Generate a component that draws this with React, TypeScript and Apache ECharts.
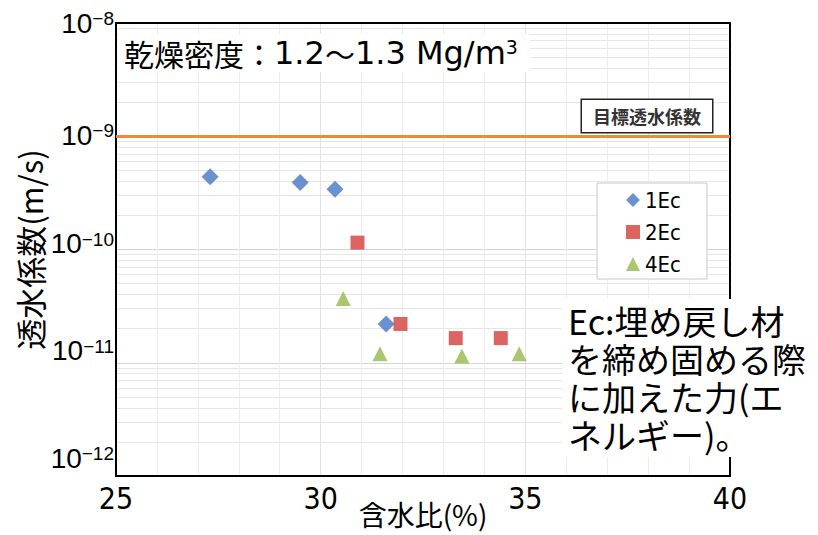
import React, { useEffect, useRef } from "react";
import * as echarts from "echarts";

// x-axis ticks: 含水比 (%)
const xTicks = [25, 30, 35, 40];
// y-axis decades: exponent of 透水係数 (m/s)
const yExponents = [-12, -11, -10, -9, -8];

const seriesNames = ["1Ec", "2Ec", "4Ec"];
// [含水比 (%), 透水係数 (m/s)]
const ec1 = [
  [27.3, 4.4e-10],
  [29.5, 3.9e-10],
  [30.35, 3.4e-10],
  [31.6, 2.2e-11],
];
const ec2 = [
  [30.9, 1.15e-10],
  [31.95, 2.2e-11],
  [33.3, 1.65e-11],
  [34.4, 1.65e-11],
];
const ec4 = [
  [30.55, 3.7e-11],
  [31.45, 1.2e-11],
  [33.45, 1.15e-11],
  [34.85, 1.2e-11],
];

const targetPermeability = 1e-9;
const targetLabel = "目標透水係数";
const xAxisName = "含水比(%)";
const yAxisName = "透水係数(m/s)";
const densityLabel = "乾燥密度：";
const densityFrom = "1.2";
const densityTilde = "〜";
const densityTo = "1.3 Mg/m";
const densityUnitPower = "3";
const energyNote = ["Ec:埋め戻し材", "を締め固める際", "に加えた力(エ", "ネルギー)。"];

// The log axis works in units of 10^-12 m/s to keep values away from float rounding.
const Y_UNIT_EXP = yExponents[0];
const toAxis = (v: number) => v / Math.pow(10, Y_UNIT_EXP);

const NARROW = "'Liberation Sans Narrow', 'DejaVu Sans Condensed', sans-serif";
const SANS = "'Liberation Sans', Arial, sans-serif";
const WIDE = "'DejaVu Sans', sans-serif";
const CJK = "'Noto Sans CJK JP', sans-serif";

const COLORS = ["#4677c4", "#d43f3a", "#93b94b"];
const SYMBOLS = ["diamond", "rect", "triangle"];
const SYMBOL_SIZES = [17, 14, 15];

// upward nudge of each decade label (px)
const labelLift: Record<number, number> = { 8: 0, 9: 1, 10: 6, 11: 12, 12: 18 };

export default function App() {
  const ref = useRef<HTMLDivElement>(null);

  useEffect(() => {
    if (!ref.current) return;
    const chart = echarts.init(ref.current, undefined, { renderer: "svg" });

    const rich: Record<string, any> = {};
    yExponents.forEach((e) => {
      const n = -e;
      rich["b" + n] = {
        fontSize: 28,
        fontFamily: SANS,
        color: "#000",
        padding: [0, 0, 2 * labelLift[n], 0],
      };
      rich["s" + n] = {
        fontSize: 19,
        fontFamily: SANS,
        color: "#000",
        verticalAlign: "top",
      };
    });

    const [xMin, xMax] = [xTicks[0], xTicks[xTicks.length - 1]];
    const frameAxis = {
      axisLine: { show: true, onZero: false, lineStyle: { color: "#000", width: 2 } },
      axisTick: { show: false },
      axisLabel: { show: false },
      splitLine: { show: false },
      silent: true,
    };

    chart.setOption({
      animation: false,
      backgroundColor: "#fff",
      grid: {
        left: 116,
        top: 23,
        width: 614,
        height: 453,
        containLabel: false,
        outerBoundsMode: "none",
        show: true,
        borderColor: "#000",
        borderWidth: 2,
        backgroundColor: "transparent",
      },
      xAxis: [
        {
          type: "value",
          min: xMin,
          max: xMax,
          interval: xTicks[1] - xTicks[0],
          axisLine: { show: true, onZero: false, lineStyle: { color: "#000", width: 2 } },
          axisTick: { show: false },
          axisLabel: { fontSize: 30, fontFamily: NARROW, color: "#000", margin: 7 },
          splitLine: { show: true, lineStyle: { color: "#e2e2e2", width: 1 } },
          minorTick: { show: false, splitNumber: 5 },
          minorSplitLine: { show: true, lineStyle: { color: "#ededed", width: 1 } },
          name: xAxisName,
          nameLocation: "middle",
          nameGap: 24,
          nameMoveOverlap: false,
          nameTextStyle: { fontSize: 28, fontFamily: CJK, color: "#000" },
        },
        { type: "value", position: "top", min: xMin, max: xMax, ...frameAxis },
      ],
      yAxis: [
        {
          type: "log",
          logBase: 10,
          min: 1,
          max: toAxis(Math.pow(10, yExponents[yExponents.length - 1])),
          splitNumber: yExponents.length - 1,
          axisLine: { show: true, onZero: false, lineStyle: { color: "#000", width: 2 } },
          axisTick: { show: false },
          axisLabel: {
            margin: 2,
            formatter: (v: number) => {
              const n = -(Math.round(Math.log10(v)) + Y_UNIT_EXP);
              return `{b${n}|10}{s${n}|−${n}}`;
            },
            rich,
          },
          splitLine: { show: true, lineStyle: { color: "#d4d4d4", width: 1 } },
          minorTick: { show: false, splitNumber: 9 },
          minorSplitLine: { show: true, lineStyle: { color: "#e6e6e6", width: 1 } },
          name: yAxisName,
          nameLocation: "middle",
          nameGap: 71,
          nameMoveOverlap: false,
          nameTextStyle: { fontSize: 31, fontFamily: CJK, color: "#000" },
        },
        { type: "value", position: "right", min: 0, max: 1, ...frameAxis },
      ],
      legend: {
        data: seriesNames.map((name, i) => ({ name, icon: SYMBOLS[i] })),
        orient: "vertical",
        left: 597,
        top: 183,
        padding: [6, 26, 4, 29],
        itemGap: 10,
        itemWidth: 14,
        itemHeight: 14,
        borderColor: "#c8c8c8",
        borderWidth: 1,
        backgroundColor: "#fff",
        textStyle: { fontSize: 22, fontFamily: NARROW, color: "#000" },
      },
      series: [ec1, ec2, ec4].map((d, i) => ({
        name: seriesNames[i],
        type: "scatter",
        xAxisIndex: 0,
        yAxisIndex: 0,
        data: d.map(([x, y]) => [x, toAxis(y)]),
        symbol: SYMBOLS[i],
        symbolSize: SYMBOL_SIZES[i],
        itemStyle: { color: COLORS[i] },
        z: 5,
        ...(i === 0
          ? {
              markLine: {
                silent: true,
                symbol: ["none", "none"],
                label: { show: false },
                emphasis: { disabled: true },
                lineStyle: { color: "#ee8a3c", width: 3, type: "solid" },
                data: [{ yAxis: toAxis(targetPermeability) }],
              },
            }
          : {}),
      })),
      graphic: [
        {
          type: "text",
          x: 118,
          y: 53,
          z: 100,
          style: {
            text: `{c|${densityLabel}}{l|${densityFrom}}{c|${densityTilde}}{l|${densityTo}}{p|${densityUnitPower}}`,
            verticalAlign: "middle",
            align: "left",
            backgroundColor: "#fff",
            padding: [3, 12, 3, 6],
            rich: {
              c: { fontSize: 30, fontFamily: CJK, fill: "#000" },
              l: { fontSize: 32, fontFamily: WIDE, fill: "#000" },
              p: { fontSize: 19, fontFamily: WIDE, fill: "#000", verticalAlign: "top" },
            },
          },
        },
        {
          type: "text",
          x: 647,
          y: 116,
          z: 100,
          style: {
            text: targetLabel,
            fontSize: 18,
            fontWeight: "bold",
            fontFamily: CJK,
            fill: "#333",
            align: "center",
            verticalAlign: "middle",
            backgroundColor: "#fff",
            borderColor: "#222",
            borderWidth: 1.5,
            padding: [7, 11, 7, 11],
          },
        },
        {
          type: "text",
          x: 562,
          y: 299,
          z: 100,
          style: {
            text: energyNote.join("\n"),
            fontSize: 34,
            lineHeight: 38,
            fontFamily: CJK,
            fill: "#000",
            align: "left",
            verticalAlign: "top",
            backgroundColor: "#fff",
            padding: [2, 10, 4, 6],
          },
        },
      ],
    });

    return () => chart.dispose();
  }, []);

  return <div ref={ref} style={{ width: 818, height: 535, position: "absolute", left: 0, top: 0 }} />;
}
